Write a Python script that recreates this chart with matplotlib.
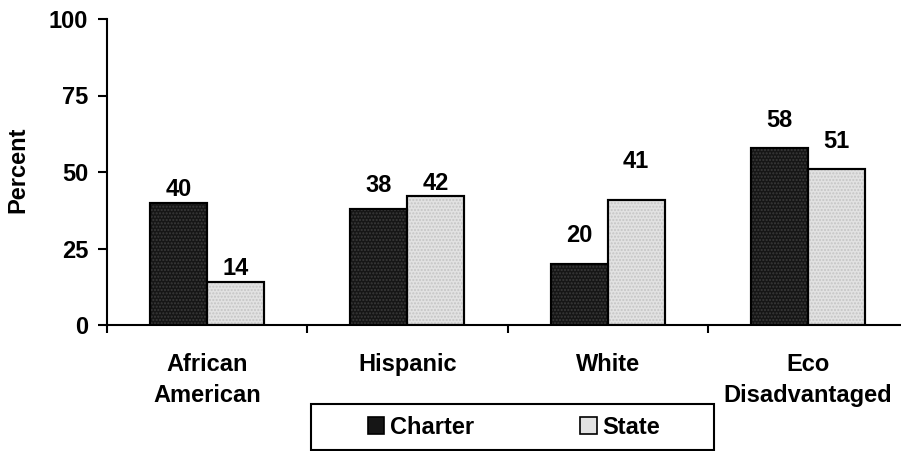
import matplotlib
matplotlib.use("Agg")
import matplotlib.pyplot as plt
from matplotlib.patches import Rectangle, Patch
import numpy as np

categories = ["African\nAmerican", "Hispanic", "White", "Eco\nDisadvantaged"]
charter = [40, 38, 20, 58]
state = [14, 42, 41, 51]
series_names = ["Charter", "State"]

# how far above the bar top each label sits (px)
charter_lift = [13, 23, 28, 27]
state_lift = [14, 13, 38, 27]

plt.rcParams['font.family'] = ['Liberation Sans', 'DejaVu Sans']
plt.rcParams['font.weight'] = 'bold'

W, H = 901, 451
fig = plt.figure(figsize=(W / 100, H / 100), dpi=100, facecolor='white')
# axes: x from 107 px to 908 px (runs off the right edge), y from 19 to 325 px
ax = fig.add_axes([107 / W, 1 - 325 / H, 801 / W, 306 / H])

fs = 17
bw = 0.285
x = np.arange(len(categories))
dark = '#161616'
light = '#e2e2e2'

b1 = ax.bar(x - bw / 2, charter, bw, color=dark, edgecolor='black', linewidth=1.5, zorder=3)
b2 = ax.bar(x + bw / 2, state, bw, color=light, edgecolor='black', linewidth=1.5, zorder=3)
# faint dot texture like the original fill
ax.bar(x - bw / 2, charter, bw, fill=False, hatch='.....', edgecolor='#3a3a3a', linewidth=0, zorder=3.5)
ax.bar(x + bw / 2, state, bw, fill=False, hatch='.....', edgecolor='#c4c4c4', linewidth=0, zorder=3.5)
ax.bar(x - bw / 2, charter, bw, fill=False, edgecolor='black', linewidth=1.5, zorder=4)
ax.bar(x + bw / 2, state, bw, fill=False, edgecolor='black', linewidth=1.5, zorder=4)

for bars, vals, lifts in ((b1, charter, charter_lift), (b2, state, state_lift)):
    for r, v, l in zip(bars, vals, lifts):
        ax.annotate(str(v), (r.get_x() + r.get_width() / 2, v),
                    xytext=(0, l * 0.72), textcoords='offset points',
                    ha='center', va='center', fontsize=fs, fontweight='bold')

ax.set_xlim(-0.5, 3.5)
ax.set_ylim(0, 100)
ax.set_yticks([0, 25, 50, 75, 100])
ax.tick_params(axis='y', direction='out', length=6.5, width=1.5, pad=7, labelsize=fs)
ax.set_xticks(x)
ax.set_xticklabels(categories, fontsize=fs, fontweight='bold', linespacing=1.45)
ax.set_xticks(np.arange(-0.5, 4, 1), minor=True)
ax.tick_params(axis='x', which='major', length=0, pad=20)
ax.tick_params(axis='x', which='minor', direction='out', length=6, width=1.5)

for s in ('top', 'right'):
    ax.spines[s].set_visible(False)
for s in ('left', 'bottom'):
    ax.spines[s].set_linewidth(1.5)
ax.spines['bottom'].set_zorder(5)

fig.text(18 / W, 1 - 170 / H, "Percent", rotation=90, ha='center', va='center',
         fontsize=fs, fontweight='bold')

# legend with its own box
fig.patches.append(Rectangle((311 / W, 1 - 450 / H), 403 / W, 46 / H,
                             transform=fig.transFigure, fill=False,
                             edgecolor='black', linewidth=1.5))
handles = [Patch(facecolor=dark, edgecolor='black', linewidth=1.2),
           Patch(facecolor=light, edgecolor='black', linewidth=1.2)]
fig.legend(handles, series_names, loc='center', bbox_to_anchor=(514 / W, 1 - 427 / H),
           ncol=2, frameon=False, fontsize=fs, handlelength=0.7, handleheight=0.7,
           handletextpad=0.25, columnspacing=4.5, borderpad=0)

fig.savefig("out.png", dpi=100, facecolor='white')
